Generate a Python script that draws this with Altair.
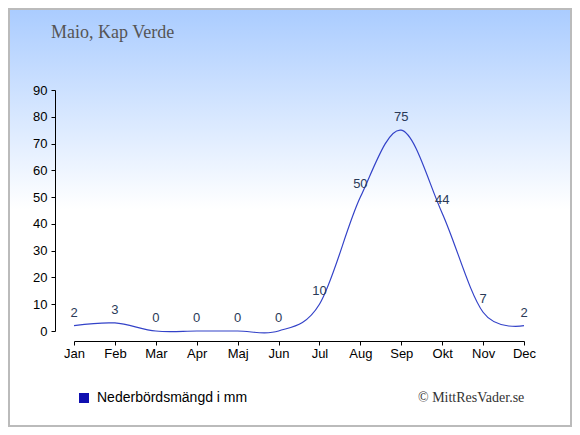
import json
import altair as alt
import pandas as pd

months = ["Jan", "Feb", "Mar", "Apr", "Maj", "Jun", "Jul", "Aug", "Sep", "Okt", "Nov", "Dec"]
rain = [2, 3, 0, 0, 0, 0, 10, 50, 75, 44, 7, 2]
series_name = "Nederbördsmängd i mm"
title_text = "Maio, Kap Verde"
credit_text = "© MittResVader.se"
y_ticks = [0, 10, 20, 30, 40, 50, 60, 70, 80, 90]

df = pd.DataFrame({
    "idx": list(range(len(months))),
    "month": months,
    "rain": rain,
    "series": [series_name] * len(months),
})

W, H = 450, 241
PL, PT, PR, PB = 66, 82, 48, 96

label_expr = json.dumps(months) + "[datum.value]"

x_enc = alt.X(
    "idx:Q",
    scale=alt.Scale(domain=[0, 11], nice=False, zero=False),
    axis=alt.Axis(
        values=list(range(12)), labelExpr=label_expr, offset=10, grid=False, title=None,
        domainColor="black", tickColor="black", tickSize=4, labelPadding=2,
        labelFlush=False, labelOverlap=False, labelBound=False,
        labelFont="Liberation Sans", labelFontSize=13, labelColor="black", zindex=1,
    ),
)
y_enc = alt.Y(
    "rain:Q",
    scale=alt.Scale(domain=[0, 90], nice=False, zero=True),
    axis=alt.Axis(
        values=y_ticks, tickCount=10, offset=19, grid=False, title=None,
        domainColor="black", tickColor="black", tickSize=4, labelPadding=4,
        labelFlush=False, labelOverlap=False, labelBound=False,
        labelFont="Liberation Sans", labelFontSize=13, labelColor="black", zindex=1,
    ),
)

one = pd.DataFrame({"a": [0]})

bg = alt.Chart(one).mark_rect(
    fill=alt.Gradient(
        gradient="linear",
        stops=[alt.GradientStop(color="#aaccff", offset=0),
               alt.GradientStop(color="#ffffff", offset=0.48),
               alt.GradientStop(color="#ffffff", offset=1)],
        x1=0, x2=0, y1=0, y2=1,
    ),
    stroke="#bbbbbb", strokeWidth=2,
).encode(
    x=alt.value(-PL + 1), x2=alt.value(W + PR - 1),
    y=alt.value(-PT + 1), y2=alt.value(H + PB - 1),
)

line = alt.Chart(df).mark_line(interpolate="cardinal", strokeWidth=1.2).encode(
    x=x_enc, y=y_enc,
    color=alt.Color(
        "series:N",
        scale=alt.Scale(range=["#3342c8"]),
        legend=alt.Legend(
            orient="none", legendX=3, legendY=301, title=None, padding=0, zindex=1,
            symbolType="square", symbolSize=100, symbolFillColor="#1010b0",
            symbolStrokeColor="#1010b0", symbolStrokeWidth=0, symbolOpacity=1,
            labelFont="Liberation Sans", labelFontSize=14, labelColor="black", labelOffset=6,
        ),
    ),
)

labels = alt.Chart(df).mark_text(
    dy=-13, font="Liberation Sans", fontSize=13, color="#2a3a58", baseline="middle"
).encode(x=x_enc, y=y_enc, text="rain:Q")

title = alt.Chart(one).mark_text(
    text=title_text, font="Liberation Serif", fontSize=18, color="#555555",
    align="left", baseline="alphabetic",
).encode(x=alt.value(51 - 8 - PL), y=alt.value(38 - 8 - PT))

credit = alt.Chart(one).mark_text(
    text=credit_text, font="Liberation Serif", fontSize=14, color="#333333",
    align="left", baseline="middle",
).encode(x=alt.value(418 - 8 - PL), y=alt.value(398 - 8 - PT))

chart = alt.layer(bg, line, labels, title, credit).properties(
    width=W, height=H,
    autosize=alt.AutoSizeParams(type="none"),
    padding={"left": PL, "top": PT, "right": PR, "bottom": PB},
).configure_view(stroke=None)

chart.save("out.html", embed_options={"renderer": "svg", "actions": False})
